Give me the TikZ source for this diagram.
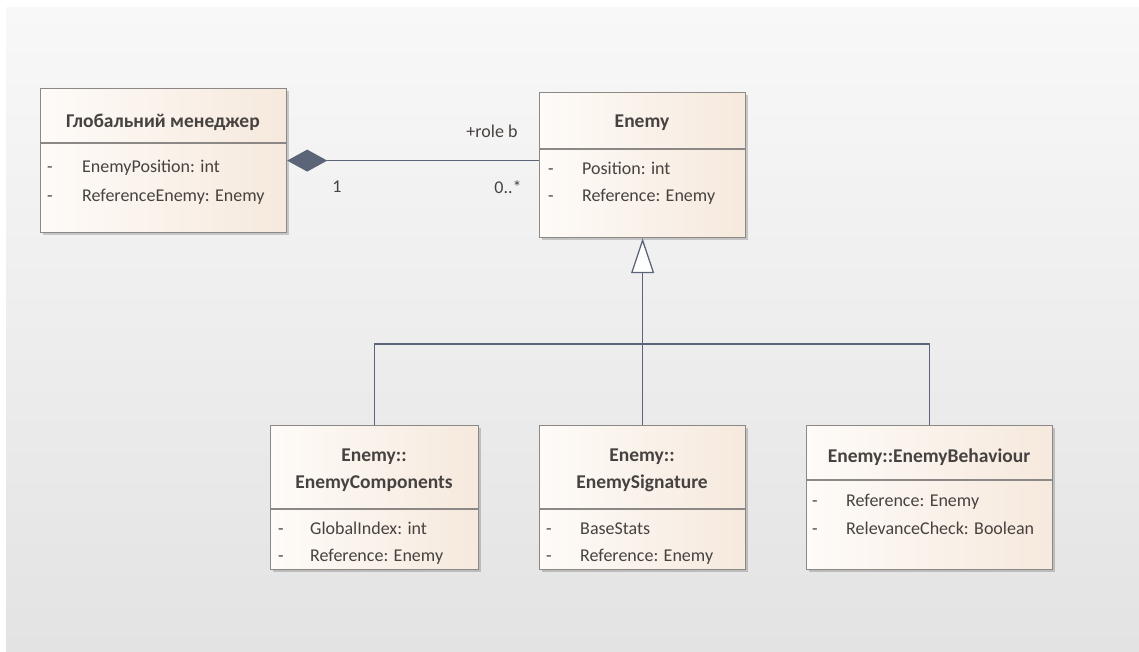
\documentclass[tikz,border=0pt]{standalone}
\usepackage{fontspec}
\setmainfont{Carlito}
\usetikzlibrary{arrows.meta}
\definecolor{bgtop}{HTML}{F8F8F8}
\definecolor{bgbot}{HTML}{E3E3E3}
\definecolor{boxl}{HTML}{FEFBF8}
\definecolor{boxr}{HTML}{F6E9DD}
\definecolor{boxline}{HTML}{8C8886}
\definecolor{connc}{HTML}{5C6478}
\definecolor{txt}{HTML}{46423F}

\tikzset{
  classbox/.style={draw=boxline, line width=1.2pt, left color=boxl, right color=boxr,
    inner sep=0pt, anchor=north west},
  boxshadow/.style={fill=black, opacity=0.18},
  title/.style={font=\fontsize{19.5}{27}\selectfont\bfseries, text=txt, align=center, inner sep=0pt},
  attr/.style={font=\fontsize{18}{20}\selectfont, text=txt, anchor=west, inner sep=0pt,
    text height=12.5pt, text depth=3.5pt},
  divider/.style={draw=boxline, line width=1.2pt},
  conn/.style={draw=connc, line width=1.3pt},
  role/.style={font=\fontsize{18}{20}\selectfont, text=txt, inner sep=0pt},
}

\begin{document}
\begin{tikzpicture}[x=1pt, y=-1pt]
\useasboundingbox (0,0) rectangle (1139,651);

% backdrop
\fill[white] (0,0) rectangle (1139,651);
\shade[top color=bgtop, bottom color=bgbot] (6,7) rectangle (1139,651);

% drop shadows of the class boxes
\fill[boxshadow] (43,91) rectangle (289,235);
\fill[boxshadow] (542,95) rectangle (748,240);
\fill[boxshadow] (273,428) rectangle (481,572);
\fill[boxshadow] (542,428) rectangle (748,572);
\fill[boxshadow] (809,428) rectangle (1055,572);

% class boxes
\node[classbox, minimum width=246pt, minimum height=144pt] (gm) at (40,88) {};
\node[classbox, minimum width=206pt, minimum height=145pt] (en) at (539,92) {};
\node[classbox, minimum width=208pt, minimum height=144pt] (comp) at (270,425) {};
\node[classbox, minimum width=206pt, minimum height=144pt] (sig) at (539,425) {};
\node[classbox, minimum width=246pt, minimum height=144pt] (beh) at (806,425) {};

% compartment dividers
\draw[divider] (gm.west |- 0,143) -- (gm.east |- 0,143);
\draw[divider] (en.west |- 0,149) -- (en.east |- 0,149);
\draw[divider] (comp.west |- 0,509) -- (comp.east |- 0,509);
\draw[divider] (sig.west |- 0,509) -- (sig.east |- 0,509);
\draw[divider] (beh.west |- 0,480) -- (beh.east |- 0,480);

% Глобальний менеджер
\node[title] (gmT) at (163,122) {Глобальний менеджер};
\node[attr] (gmD1) at (47,168) {-};
\node[attr] (gmA1) at (82,168) {EnemyPosition: int};
\node[attr] (gmD2) at (47,197) {-};
\node[attr] (gmA2) at (82,197) {ReferenceEnemy: Enemy};

% Enemy
\node[title] (enT) at (642,123) {Enemy};
\node[attr] (enD1) at (548,170) {-};
\node[attr] (enA1) at (582,170) {Position: int};
\node[attr] (enD2) at (548,197) {-};
\node[attr] (enA2) at (582,197) {Reference: Enemy};

% Enemy::EnemyComponents
\node[title] (compT) at (374,470.5) {Enemy::\\EnemyComponents};
\node[attr] (compD1) at (278,530) {-};
\node[attr] (compA1) at (310,530) {GlobalIndex: int};
\node[attr] (compD2) at (278,557) {-};
\node[attr] (compA2) at (310,557) {Reference: Enemy};

% Enemy::EnemySignature
\node[title] (sigT) at (642,470.5) {Enemy::\\EnemySignature};
\node[attr] (sigD1) at (546,530) {-};
\node[attr] (sigA1) at (580,530) {BaseStats};
\node[attr] (sigD2) at (546,557) {-};
\node[attr] (sigA2) at (580,557) {Reference: Enemy};

% Enemy::EnemyBehaviour
\node[title] (behT) at (929,457) {Enemy::EnemyBehaviour};
\node[attr] (behD1) at (812,502) {-};
\node[attr] (behA1) at (846,502) {Reference: Enemy};
\node[attr] (behD2) at (812,530) {-};
\node[attr] (behA2) at (846,530) {RelevanceCheck: Boolean};

% composition
\draw[conn, {Diamond[length=40pt, width=22pt, fill=connc]}-] (gm.east) -- (en.west |- gm.east);
\node[role] (roleb) at (492,131) {+role b};
\node[role] (multB) at (508,187) {0..*};
\node[role] (multA) at (337,187) {1};

% generalisation
\coordinate (bus) at (642,344);
\draw[conn] (comp.north) |- (bus) -| (beh.north);
\draw[conn, -{Triangle[open, length=35pt, width=23pt, fill=white]}] (sig.north) -- (en.south);
\end{tikzpicture}
\end{document}
